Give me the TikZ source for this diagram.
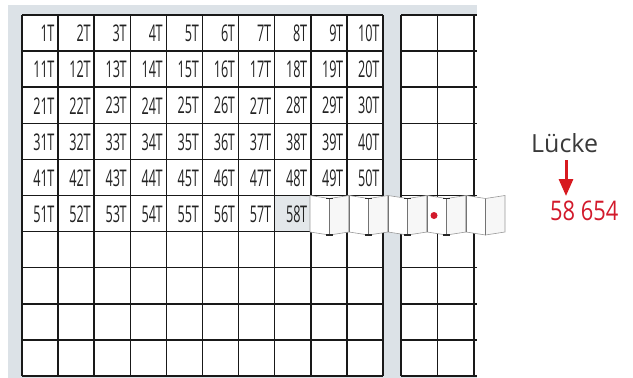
\documentclass[tikz,border=0pt]{standalone}
\usepackage{fontspec}
\setmainfont{Open Sans}
\usetikzlibrary{arrows.meta}
\definecolor{bgray}{HTML}{DCE2E7}
\definecolor{cellgray}{HTML}{E3E7EA}
\definecolor{redc}{HTML}{D2192B}
\definecolor{arrred}{HTML}{D7191F}
\definecolor{txt}{HTML}{222222}
\definecolor{lucktxt}{HTML}{3A3A3A}
\begin{document}
\begin{tikzpicture}[x=1pt,y=-1pt,
  gridline/.style={line width=1.5pt, draw=black!90},
  celllabel/.style={anchor=east, inner sep=0pt, font=\fontsize{23}{23}\selectfont, text=txt},
  panel/.style={draw=black!40, line width=0.6pt},
  foldline/.style={draw=black!55, line width=1pt},
  foldtick/.style={draw=black!85, line width=1.4pt},
  redarrow/.style={draw=arrred, line width=3pt, -{Triangle[width=14pt,length=17pt]}}
]
\useasboundingbox (0,0) rectangle (633,378);
% background panel
\fill[bgray] (8,5) rectangle (477,378);
\fill[white] (22,15) rectangle (383,376);
\fill[white] (401,15) rectangle (477,376);
\fill[cellgray] (274.7,195.5) rectangle (310.8,231.6);
% left grid
\foreach \k in {0,...,10} {
  \draw[gridline] (22+36.1*\k,15) -- (22+36.1*\k,376);
  \draw[gridline] (22,15+36.1*\k) -- (383,15+36.1*\k);
}
% right grid (cut off at the right)
\foreach \xx in {401,437.5,474} {
  \draw[gridline] (\xx,15) -- (\xx,376);
}
\foreach \k in {0,...,10} {
  \draw[gridline] (401,15+36.1*\k) -- (477,15+36.1*\k);
}
% cell labels
\foreach \r in {0,...,5} {
  \foreach \c in {0,...,9} {
    \pgfmathtruncatemacro\n{10*\r+\c+1}
    \ifnum\n<59
      \node[celllabel] (l\n) at (22+36.1*\c+36.1-3.5, 15+36.1*\r+18.5) {\scalebox{0.55}[1]{\n\kern-0.03em T}};
    \fi
  }
}
% folded strip
\foreach \i in {0,...,9} {
  \pgfmathsetmacro\xa{310+19.5*\i}
  \pgfmathsetmacro\xb{\xa+19.5}
  \pgfmathsetmacro\ta{195.5+3*mod(\i,2)}
  \pgfmathsetmacro\tb{195.5+3*mod(\i+1,2)}
  \pgfmathsetmacro\ba{232+3*mod(\i,2)}
  \pgfmathsetmacro\bb{232+3*mod(\i+1,2)}
  \pgfmathsetmacro\shade{mod(\i,2)==0 ? 100 : 97}
  \filldraw[panel, fill=white!\shade!black] (\xa,\ta) -- (\xb,\tb) -- (\xb,\bb) -- (\xa,\ba) -- cycle;
}
\foreach \i in {1,...,9} {
  \pgfmathsetmacro\xa{310+19.5*\i}
  \pgfmathsetmacro\ta{195.5+3*mod(\i,2)}
  \pgfmathsetmacro\ba{232+3*mod(\i,2)}
  \draw[foldline] (\xa,\ta) -- (\xa,\ba);
}
\foreach \i in {1,3,5,7} {
  \pgfmathsetmacro\xa{310+19.5*\i}
  \draw[foldtick] (\xa-3.5,198.5) -- (\xa+3.5,198.5);
  \draw[foldtick] (\xa-3.5,235) -- (\xa+3.5,235);
}
% red mark
\fill[redc] (434,215.5) circle (3.5);
% gap label
\node[anchor=base west, inner sep=0pt, font=\fontsize{25}{25}\selectfont, text=lucktxt] (lucke) at (531,152) {Lücke};
\node[anchor=base west, inner sep=0pt, text=redc] (num) at (550,220) {\scalebox{0.81}[1]{\fontsize{27}{27}\selectfont 58 654}};
\coordinate (atop) at (566,160);
\coordinate (atip) at (566,196);
\draw[redarrow] (atop) -- (atip);
\end{tikzpicture}
\end{document}
